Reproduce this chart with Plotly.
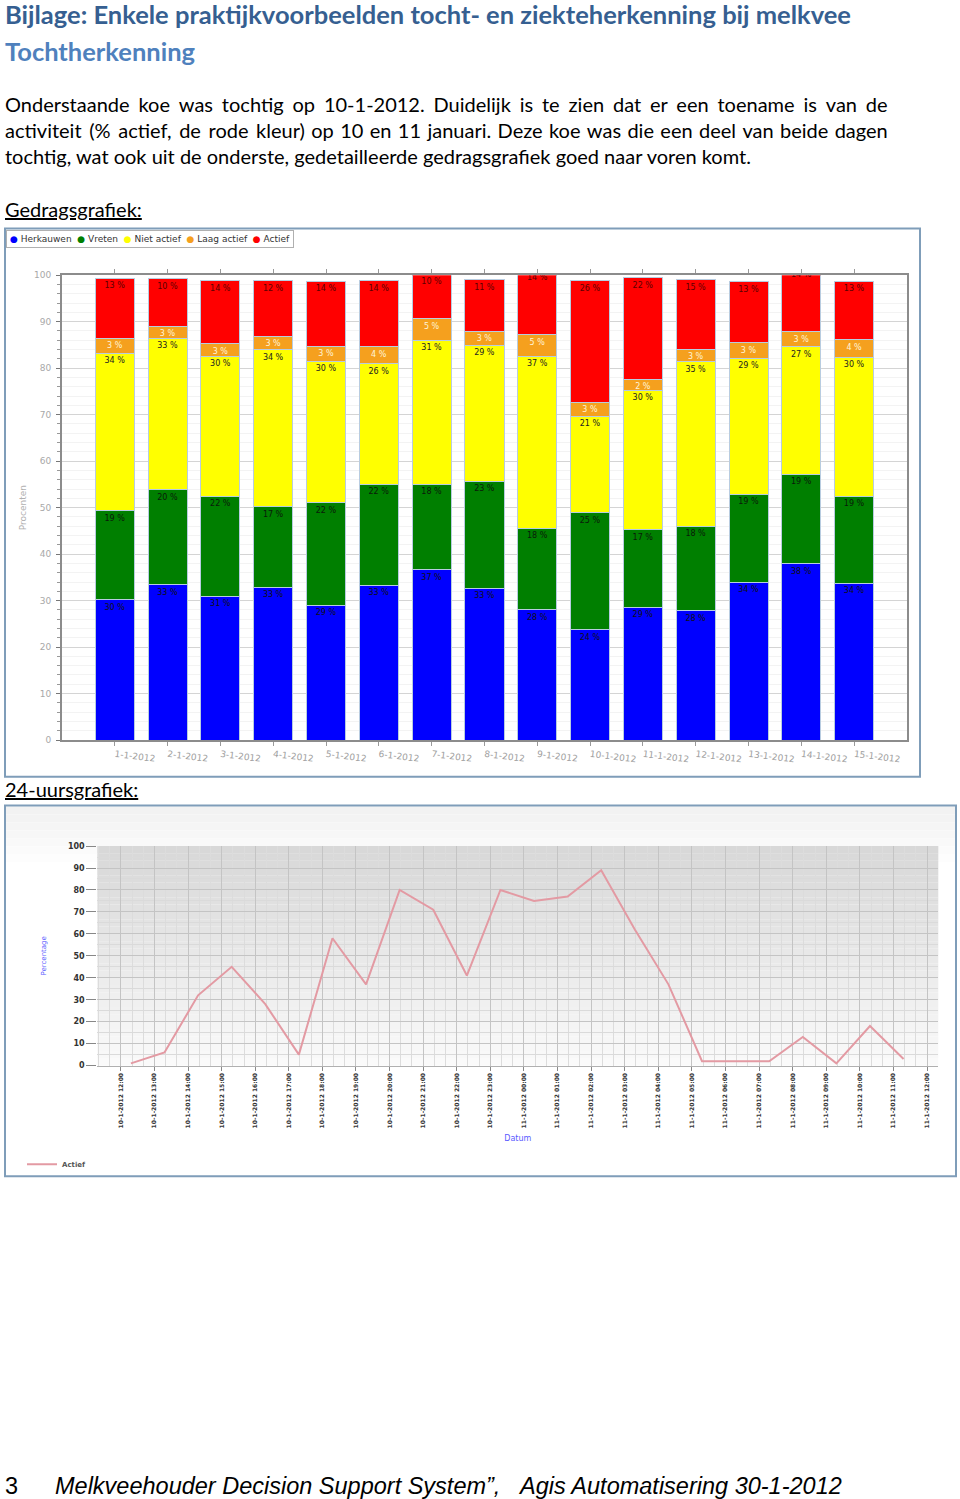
import pandas as pd
import plotly.graph_objects as go

W, H = 960, 1499


def px(x):
    return x / W


def py(y):
    return 1 - y / H


# ---- gedragsgrafiek: procent van de dag per gedrag ----
datums = ["1-1-2012", "2-1-2012", "3-1-2012", "4-1-2012", "5-1-2012", "6-1-2012", "7-1-2012",
          "8-1-2012", "9-1-2012", "10-1-2012", "11-1-2012", "12-1-2012", "13-1-2012",
          "14-1-2012", "15-1-2012"]
herkauwen = [30.2, 33.4, 30.9, 32.9, 29.0, 33.3, 36.6, 32.7, 28.0, 23.7, 28.6, 27.8, 33.9, 37.9, 33.7]
vreten = [19.1, 20.4, 21.6, 17.3, 22.1, 21.7, 18.4, 23.0, 17.6, 25.2, 16.6, 18.2, 19.0, 19.3, 18.8]
niet_actief = [33.9, 32.6, 30.1, 33.8, 30.4, 26.0, 31.0, 29.2, 37.0, 20.8, 30.1, 35.4, 29.2, 27.4, 29.9]
laag_actief = [3.2, 2.6, 2.6, 2.9, 3.2, 3.6, 4.6, 3.0, 4.6, 3.0, 2.3, 2.7, 3.4, 3.2, 3.7]
actief = [12.9, 10.2, 13.6, 11.9, 14.0, 14.2, 9.6, 11.1, 14.0, 26.1, 21.9, 14.9, 13.1, 14.0, 12.6]

# ---- 24-uursgrafiek: % actief per uur, 10-1 12:00 t/m 11-1 12:00 ----
uur_tijden = pd.date_range("2012-01-10 12:18", periods=24, freq="h")
actief_uur = [1, 6, 32, 45, 28, 5, 58, 37, 80, 71, 41, 80, 75, 77, 89, 62, 37, 2, 2, 2, 13, 1, 18, 3]
uur_ticks = pd.date_range("2012-01-10 12:00", periods=25, freq="h")
uur_labels = [t.strftime("%-d-%-m-%Y %H:%M") for t in uur_ticks]

series = [
    ("Herkauwen", herkauwen, "#0000ff", "#111111"),
    ("Vreten", vreten, "#007f00", "#0a1a0a"),
    ("Niet actief", niet_actief, "#ffff00", "#222222"),
    ("Laag actief", laag_actief, "#f5a01e", "#fff4d8"),
    ("Actief", actief, "#ff0000", "#5a0000"),
]

fig = go.Figure()
for name, vals, kleur, tekstkleur in series:
    fig.add_trace(go.Bar(
        x=datums, y=vals, name=name, showlegend=False,
        marker=dict(color=kleur, line=dict(color="#b8cce0", width=1)),
        texttemplate="%{y:.0f} %", textposition="inside", insidetextanchor="end",
        textangle=0, constraintext="none",
        textfont=dict(family="DejaVu Sans", size=8, color=tekstkleur),
        xaxis="x", yaxis="y",
    ))

fig.add_trace(go.Scatter(
    x=uur_tijden, y=actief_uur, name="Actief", mode="lines",
    line=dict(color="#e39aa3", width=2),
    xaxis="x2", yaxis="y2", legend="legend2",
))

shapes = []
# kader gedragsgrafiek
shapes.append(dict(type="rect", xref="paper", yref="paper", x0=px(5), x1=px(920), y0=py(777), y1=py(225),
                   line=dict(color="#7f9db9", width=2), layer="below"))
# lichte verloop bovenin kader 24-uursgrafiek
for i in range(8):
    c = int(242 + (255 - 242) * i / 7)
    shapes.append(dict(type="rect", xref="paper", yref="paper", x0=px(6), x1=px(955),
                       y0=py(807 + (i + 1) * 8), y1=py(807 + i * 8),
                       fillcolor=f"rgb({c},{c},{c})", line=dict(width=0), layer="below"))
# grijs verloop achter het plotvlak
n_band = 30
for i in range(n_band):
    f = i / (n_band - 1)
    c = int(250 - (250 - 216) * f)
    shapes.append(dict(type="rect", xref="x2 domain", yref="y2 domain", x0=0, x1=1,
                       y0=i / n_band, y1=(i + 1) / n_band, fillcolor=f"rgb({c},{c},{c})",
                       line=dict(width=0), layer="below"))
shapes.append(dict(type="rect", xref="paper", yref="paper", x0=px(5), x1=px(956), y0=py(1179), y1=py(806),
                   line=dict(color="#7f9db9", width=2), layer="below"))

blauw1 = "#365f91"
blauw2 = "#4f81bd"
body = dict(family="Lato", size=20, color="#000000")
footer = dict(family="Liberation Sans", size=23.5, color="#000")
legend_tekst = "  ".join(
    f"<span style='color:{kleur}'>\u25cf</span> {name}" for name, _, kleur, _ in series
)
# uitgevulde regels: extra smalle spatie tussen de woorden
regel1 = "Onderstaande koe was tochtig op 10-1-2012. Duidelijk is te zien dat er een toename is van de"
regel2 = "activiteit (% actief, de rode kleur) op 10 en 11 januari. Deze koe was die een deel van beide dagen"
regel3 = "tochtig, wat ook uit de onderste, gedetailleerde gedragsgrafiek goed naar voren komt."
regel2_uit = regel2.replace(" ", " \u200a").replace(" \u200a", " \u200a\u200a", 5)

annotations = [
    dict(text="<b>Bijlage: Enkele praktijkvoorbeelden tocht- en ziekteherkenning bij melkvee</b>",
         x=px(3), y=py(9), font=dict(family="Lato", size=25.5, color=blauw1)),
    dict(text="<b>Tochtherkenning</b>", x=px(3), y=py(46), font=dict(family="Lato", size=25.5, color=blauw2)),
    dict(text=regel1.replace(" ", " \u2009\u200a"), x=px(3), y=py(100), font=body),
    dict(text=regel2_uit, x=px(3), y=py(126), font=body),
    dict(text=regel3, x=px(3), y=py(152), font=body),
    dict(text="<u>Gedragsgrafiek:</u>", x=px(3), y=py(205), font=body),
    dict(text="<u>24-uursgrafiek:</u>", x=px(3), y=py(789), font=body),
    dict(text="3", x=px(3), y=py(1491), font=footer),
    dict(text="<i>Melkveehouder Decision Support System\u201d,</i>", x=px(53), y=py(1491), font=footer),
    dict(text="<i>Agis Automatisering 30-1-2012</i>", x=px(516), y=py(1491), font=footer),
    # legenda gedragsgrafiek
    dict(text=legend_tekst, x=px(6), y=py(236), bgcolor="white", bordercolor="#b0b0b0",
         borderwidth=1, borderpad=3, font=dict(family="DejaVu Sans", size=9, color="#333333")),
]
for a in annotations:
    a.update(xref="paper", yref="paper", xanchor="left", yanchor="middle", showarrow=False)

fig.update_layout(
    width=W, height=H, autosize=False,
    margin=dict(l=0, r=0, t=0, b=0),
    paper_bgcolor="white", plot_bgcolor="white",
    barmode="stack", bargap=0.26,
    font=dict(family="DejaVu Sans", size=9, color="#999999"),
    uniformtext=dict(mode="show", minsize=8),
    shapes=shapes, annotations=annotations,
    legend2=dict(orientation="h", x=px(22), y=py(1167), xanchor="left", yanchor="middle",
                 bgcolor="rgba(0,0,0,0)", itemwidth=30,
                 font=dict(family="DejaVu Sans", size=7, color="#555555", weight="bold")),
    xaxis=dict(domain=[px(62), px(907)], anchor="y", type="category", range=[-1, 15],
               showline=True, linecolor="#8c8c8c", linewidth=2, mirror="ticks",
               ticks="outside", ticklen=4, tickcolor="#999", tickangle=7,
               tickfont=dict(size=9, color="#a0a0a0"), showgrid=False),
    yaxis=dict(domain=[py(740), py(272)], anchor="x", range=[0, 100], dtick=10,
               showline=True, linecolor="#8c8c8c", linewidth=2, mirror=True,
               ticks="outside", ticklen=4, tickcolor="#777", ticklabelstandoff=3,
               showgrid=True, gridcolor="#d4d4d4", gridwidth=1,
               minor=dict(dtick=2, showgrid=True, gridcolor="#f3f3f3", ticks="outside",
                          ticklen=3, tickcolor="#999"),
               tickfont=dict(size=9, color="#a8a8a8"),
               title=dict(text="Procenten", standoff=6, font=dict(size=9, color="#b0b0b0"))),
    xaxis2=dict(domain=[px(97.3), px(938.3)], anchor="y2", type="date",
                range=[pd.Timestamp("2012-01-10 11:18"), pd.Timestamp("2012-01-11 12:20")],
                tickmode="array", tickvals=uur_ticks, ticktext=uur_labels, tickangle=-90,
                showline=True, linecolor="#b0b0b0", linewidth=1,
                ticks="outside", ticklen=4, tickcolor="#888",
                showgrid=True, gridcolor="#c4c4c4",
                minor=dict(dtick=20 * 60 * 1000, showgrid=True, gridcolor="#dcdcdc"),
                tickfont=dict(size=6, color="#333333", weight="bold"),
                title=dict(text="Datum", standoff=8, font=dict(size=8, color="#5a5aff"))),
    yaxis2=dict(domain=[py(1067.7), py(846.7)], anchor="x2", range=[0, 100], dtick=10,
                showline=False, ticks="outside", ticklen=10, tickcolor="#888",
                showgrid=True, gridcolor="#c4c4c4",
                minor=dict(dtick=5, showgrid=True, gridcolor="#dadada"),
                tickfont=dict(size=8, color="#333333", weight="bold"),
                title=dict(text="Percentage", standoff=20, font=dict(size=7, color="#5a5aff"))),
)

# body-marge van de pagina weg, zodat de figuur precies 960x1499 vult
fig.write_html("out.html", config={"displayModeBar": False},
               post_script="document.body.style.margin='0px';")
